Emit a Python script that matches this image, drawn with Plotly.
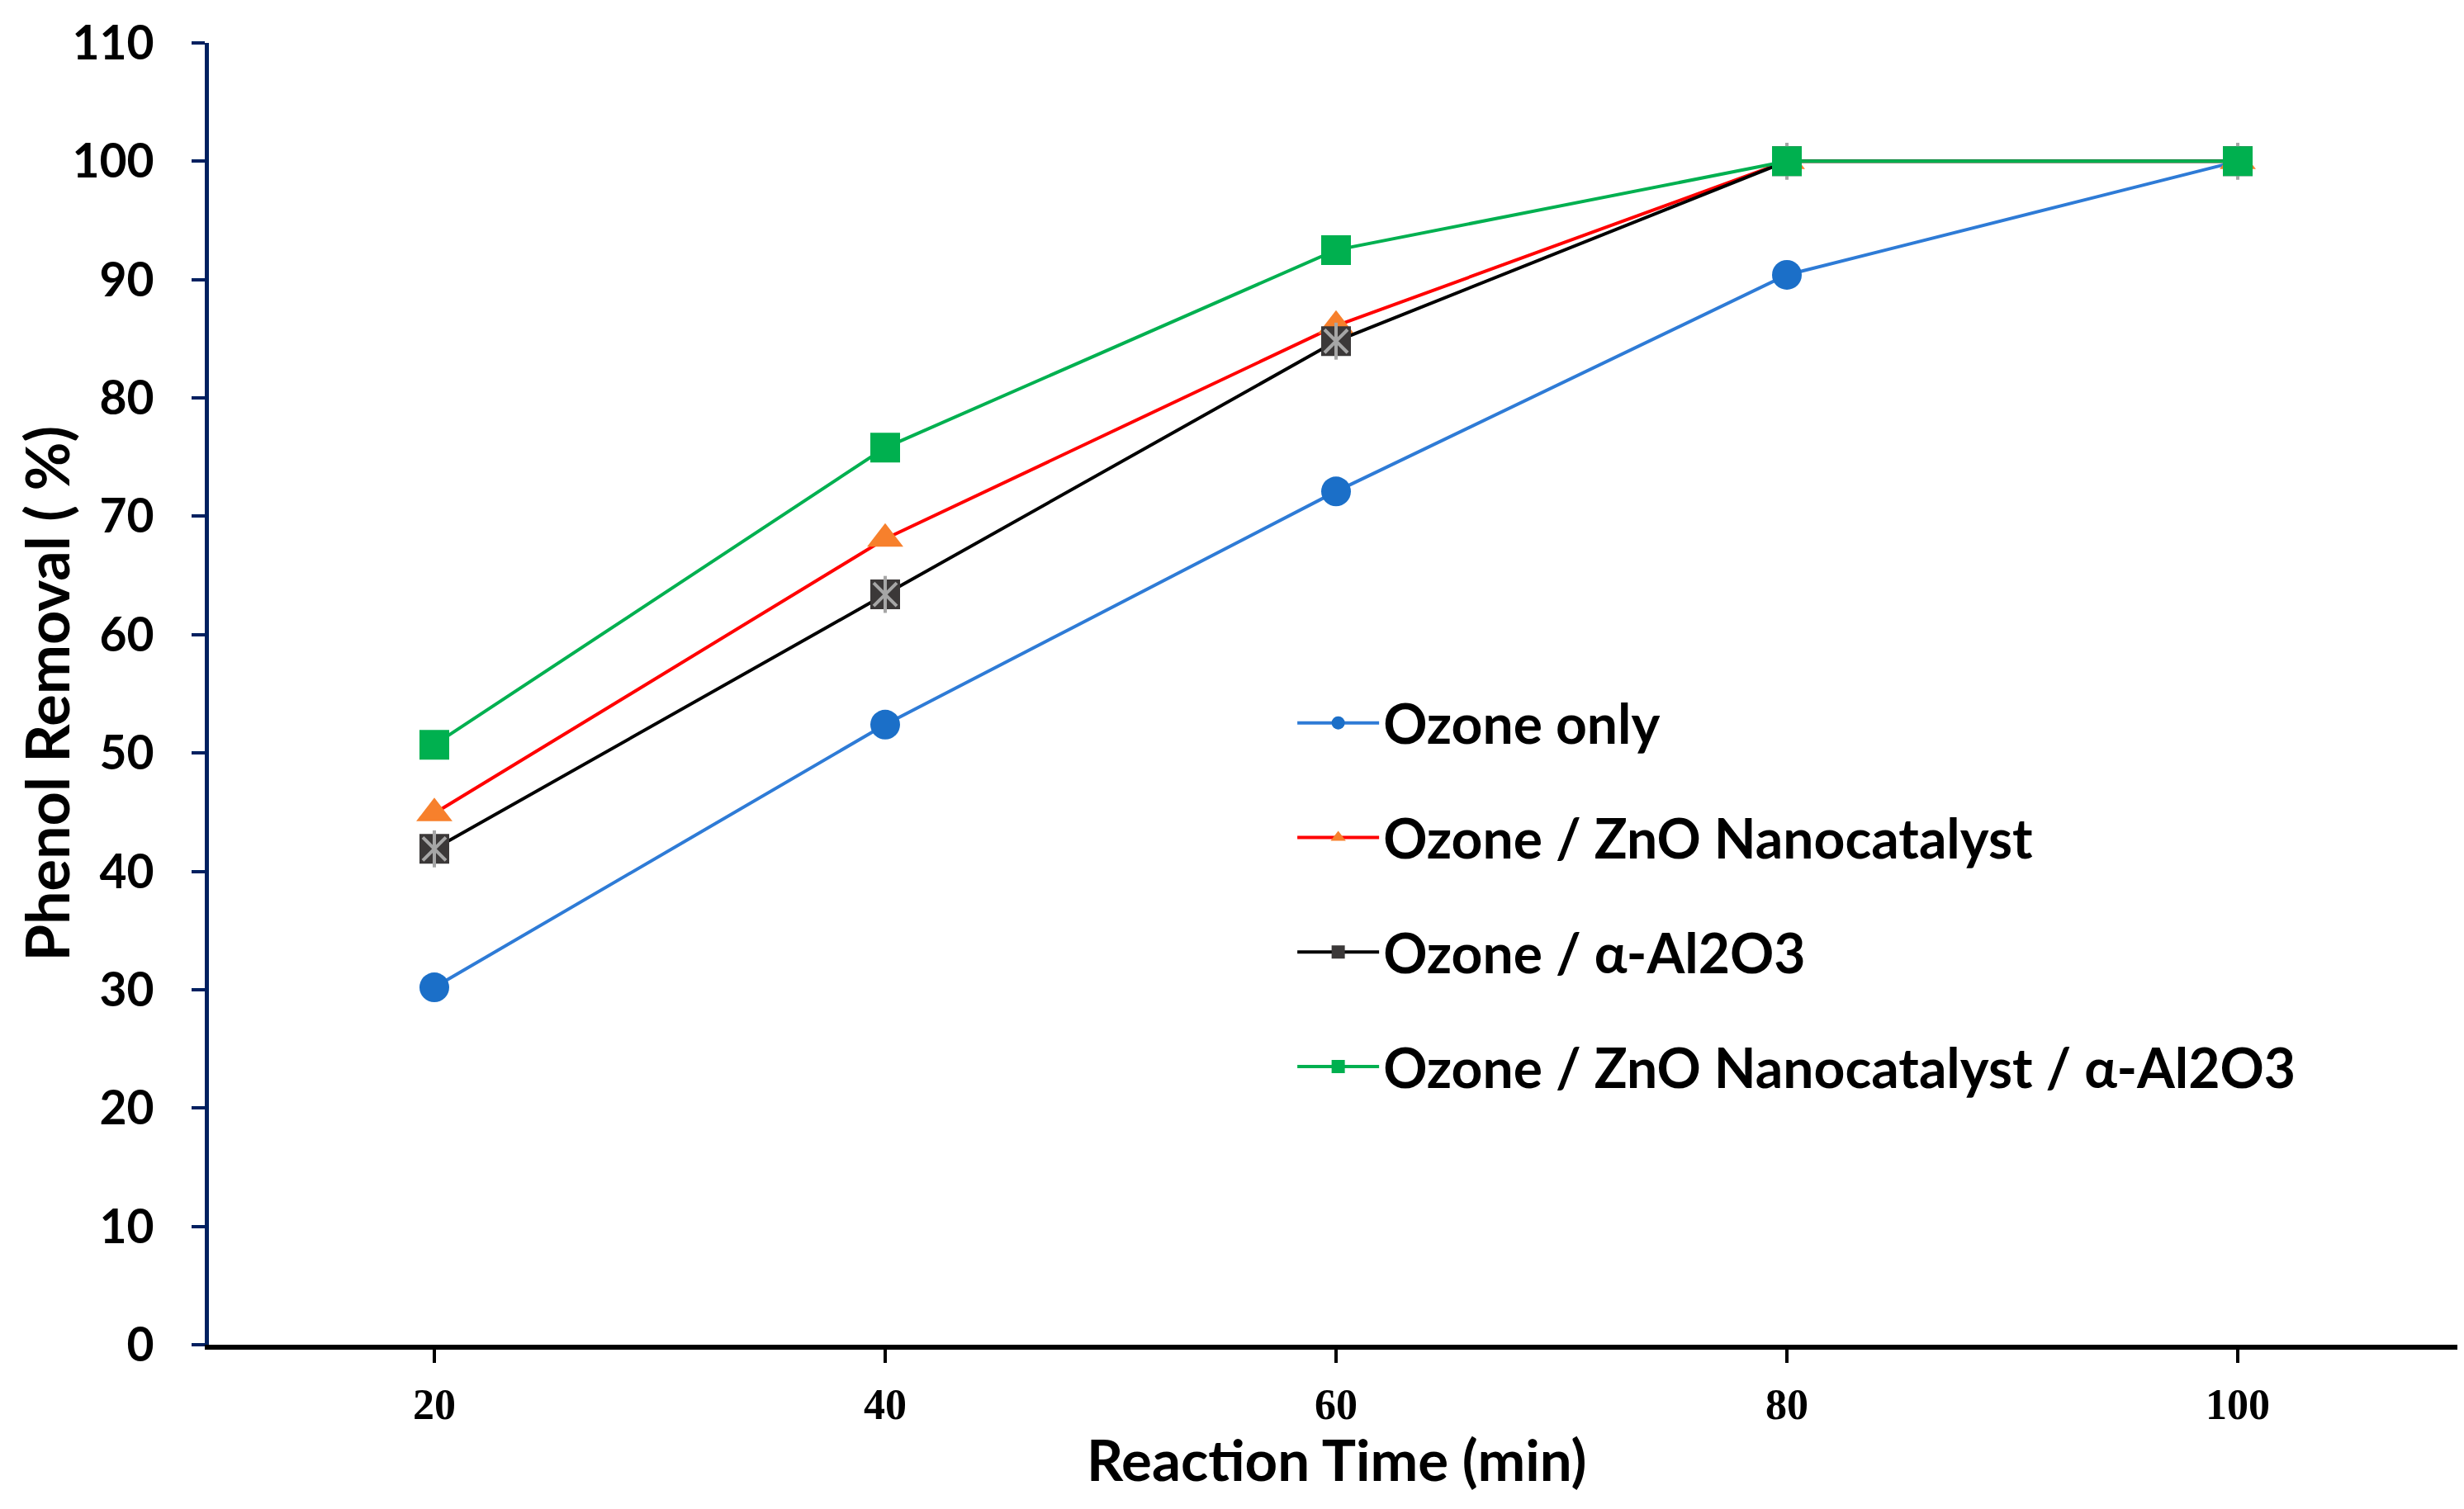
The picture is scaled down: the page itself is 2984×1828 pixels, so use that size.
import plotly.graph_objects as go

time_min = [20, 40, 60, 80, 100]
ozone_only = [30.2, 52.4, 72.1, 90.4, 100]
ozone_zno = [44.9, 68.1, 86.1, 100, 100]
ozone_al2o3 = [41.9, 63.4, 84.8, 100, 100]
ozone_zno_al2o3 = [50.7, 75.8, 92.5, 100, 100]

names = ["Ozone only", "Ozone / ZnO Nanocatalyst", "Ozone / α-Al2O3",
         "Ozone / ZnO Nanocatalyst / α-Al2O3"]
x_ticks = [20, 40, 60, 80, 100, 110]
x_tick_text = ["20", "40", "60", "80", "100", ""]
y_ticks = list(range(0, 111, 10))

FONT = "Lato"
MS = 36

fig = go.Figure()
fig.add_trace(go.Scatter(
    x=time_min, y=ozone_only, name=names[0], mode="lines+markers", legendgroup="g1",
    line=dict(color="#2E7BD6", width=4),
    marker=dict(symbol="circle", size=MS, color="#1B6FC8")))
fig.add_trace(go.Scatter(
    x=time_min, y=ozone_zno, name=names[1], mode="lines+markers", legendgroup="g2",
    line=dict(color="#FF0000", width=4),
    marker=dict(symbol="triangle-up", size=MS + 2, color="#F7802C")))
fig.add_trace(go.Scatter(
    x=time_min, y=ozone_al2o3, name=names[2], mode="lines+markers", legendgroup="g3",
    line=dict(color="#000000", width=4),
    marker=dict(symbol="square", size=MS, color="#3B3838")))
fig.add_trace(go.Scatter(
    x=time_min, y=ozone_al2o3, name=names[2], mode="markers", legendgroup="g3",
    showlegend=False, hoverinfo="skip",
    marker=dict(symbol="x-thin-open", size=MS - 8, color="#A6A6A6",
                line=dict(color="#A6A6A6", width=4))))
fig.add_trace(go.Scatter(
    x=time_min, y=ozone_al2o3, name=names[2], mode="markers", legendgroup="g3",
    showlegend=False, hoverinfo="skip",
    marker=dict(symbol="line-ns-open", size=MS - 4, color="#A6A6A6",
                line=dict(color="#A6A6A6", width=4))))
fig.add_trace(go.Scatter(
    x=time_min, y=ozone_zno_al2o3, name=names[3], mode="lines+markers", legendgroup="g4",
    line=dict(color="#00B050", width=4),
    marker=dict(symbol="square", size=MS, color="#00B04F")))

fig.update_layout(
    width=2984, height=1828, autosize=False,
    paper_bgcolor="white", plot_bgcolor="white",
    margin=dict(l=245, r=9, t=44, b=207),
    font=dict(family=FONT, color="black"),
    showlegend=True,
    legend=dict(
        x=0.481, y=0.509, xanchor="left", yanchor="top",
        font=dict(family=FONT, size=66, color="black", weight="bold"),
        itemwidth=99, traceorder="grouped", tracegroupgap=50,
        bgcolor="rgba(0,0,0,0)"),
    xaxis=dict(
        range=[10, 110], tickmode="array", tickvals=x_ticks, ticktext=x_tick_text,
        showgrid=False, zeroline=False, showline=True, linecolor="black", linewidth=6,
        ticks="outside", ticklen=16, tickwidth=4, tickcolor="black",
        ticklabelstandoff=6,
        tickfont=dict(family="Liberation Serif", size=52, color="black", weight="bold")),
    yaxis=dict(
        range=[0, 110], tickmode="array", tickvals=y_ticks,
        showgrid=False, zeroline=False, showline=True, linecolor="#002060", linewidth=5,
        ticks="outside", ticklen=16, tickwidth=4, tickcolor="#002060",
        ticklabelstandoff=34,
        tickfont=dict(family=FONT, size=57, color="black", weight="bold")),
    annotations=[
        dict(text="Phenol Removal ( %)", xref="paper", yref="paper",
             x=-0.0725, y=0.5, xanchor="center", yanchor="middle", textangle=-90,
             showarrow=False,
             font=dict(family=FONT, size=72, color="black", weight="bold")),
        dict(text="Reaction Time (min)", xref="paper", yref="paper",
             x=0.500, y=-0.088, xanchor="center", yanchor="middle",
             showarrow=False,
             font=dict(family=FONT, size=69, color="black", weight="bold")),
    ],
)

fig.write_html("out.html")
